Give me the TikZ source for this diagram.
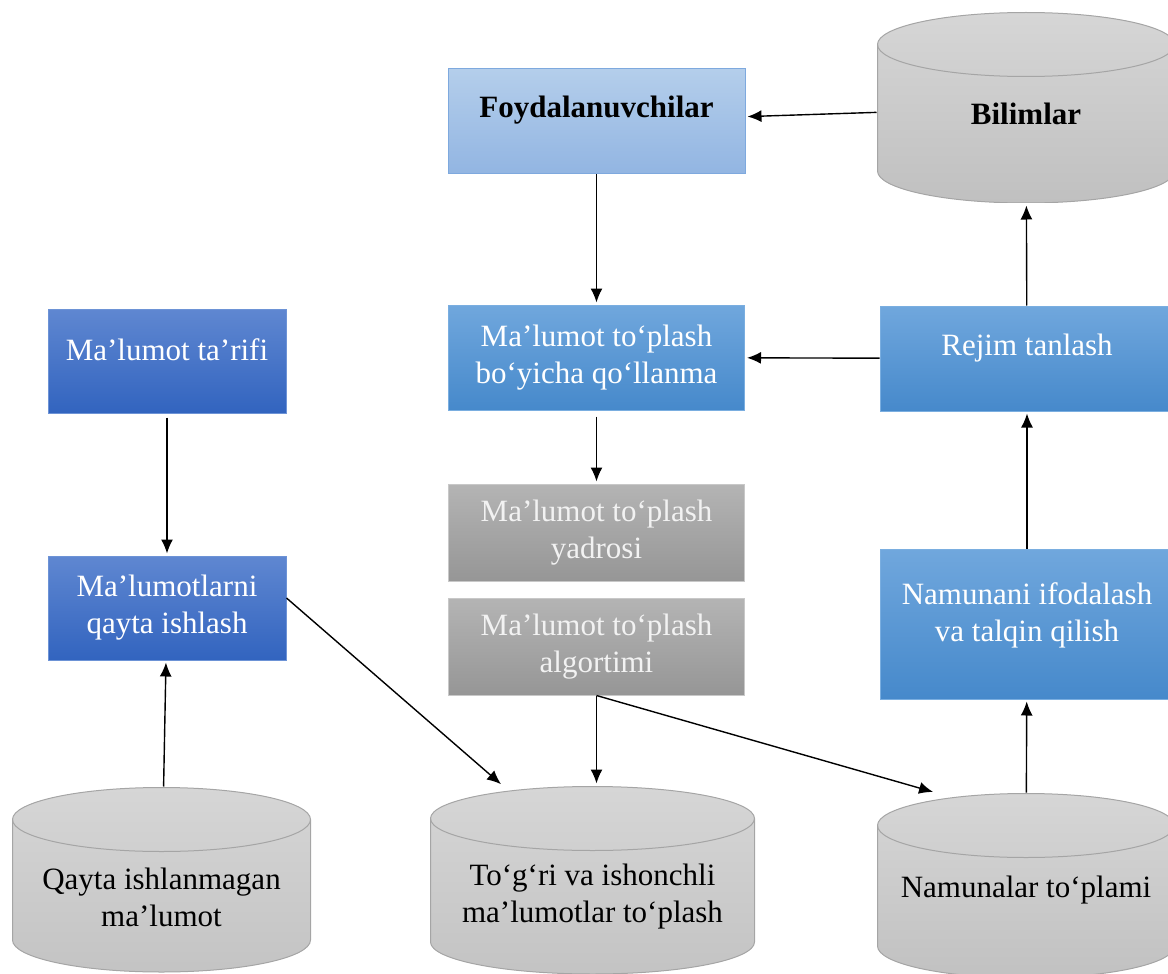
\documentclass[tikz,border=0pt]{standalone}
\usepackage{fontspec}
\setmainfont{Liberation Serif}
\usepackage{xcolor}
\usetikzlibrary{arrows.meta}
\usetikzlibrary{positioning,calc}

\definecolor{lbtop}{HTML}{B4CEEB}
\definecolor{lbbot}{HTML}{92B5E2}
\definecolor{lbline}{HTML}{7EA9DE}
\definecolor{mbtop}{HTML}{70A7DD}
\definecolor{mbbot}{HTML}{4689CB}
\definecolor{mbline}{HTML}{7AAEE0}
\definecolor{dbtop}{HTML}{5F87D1}
\definecolor{dbbot}{HTML}{3264BF}
\definecolor{dbline}{HTML}{6D93D6}
\definecolor{gtop}{HTML}{B4B4B4}
\definecolor{gbot}{HTML}{969696}
\definecolor{gline}{HTML}{C8C8C8}
\definecolor{ctop}{HTML}{D6D6D6}
\definecolor{cbot}{HTML}{C0C0C0}
\definecolor{cline}{HTML}{A5A5A5}

% cylinder drawn inside a node; #1 = space left below it
\newcommand\drawcyl[1]{%
  \shade [top color=ctop, bottom color=cbot, draw=cline, line width=0.5pt, shorten >=0pt]
    let \p1=(path picture bounding box.north west),
        \p2=(path picture bounding box.south east),
        \n1={(\x2-\x1)/2-0.25pt} in
    (\x1+0.25pt,\y1-16.25pt) -- (\x1+0.25pt,\y2+#1+16pt)
    arc[start angle=180, end angle=360, x radius=\n1, y radius=16pt]
    -- (\x2-0.25pt,\y1-16.25pt)
    arc[start angle=0, end angle=180, x radius=\n1, y radius=16pt] -- cycle;
  \draw [cline, line width=0.5pt, shorten >=0pt]
    let \p1=(path picture bounding box.north west),
        \p2=(path picture bounding box.south east),
        \n1={(\x2-\x1)/2-0.25pt} in
    (\x1+0.25pt,\y1-16.25pt)
    arc[start angle=180, end angle=360, x radius=\n1, y radius=16pt];
}

\begin{document}
\begin{tikzpicture}[%
      every node/.style={rectangle, align=center, inner sep=0pt, line width=0.5pt,
        font=\fontsize{15.5}{18.5}\selectfont},
      lbox/.style={draw=lbline, top color=lbtop, bottom color=lbbot,
        minimum width=148.5pt, minimum height=52.5pt},
      mbox/.style={draw=mbline, top color=mbtop, bottom color=mbbot, text=white,
        minimum width=148pt, minimum height=52.5pt},
      dbox/.style={draw=dbline, top color=dbtop, bottom color=dbbot, text=white,
        minimum width=119pt, minimum height=52pt},
      gbox/.style={draw=gline, top color=gtop, bottom color=gbot, text=white!95!black,
        minimum width=148pt, minimum height=48.5pt},
      db/.style={minimum width=149pt, path picture={\drawcyl{#1}}},
      db/.default=0pt,
      shorten >=1pt, line width=0.7pt, >={Latex[length=7pt,width=6pt]}
    ]
    \useasboundingbox (0,0) rectangle (584pt,-487pt);
    % middle column
    \node [] (0) [lbox, text depth=14.5pt] at (298.25pt,-60.75pt) {\textbf{Foydalanuvchilar}};
    \node [] (1) [mbox, below=65pt of 0] {Ma’lumot to‘plash\\bo‘yicha qo‘llanma};
    \node [] (2) [gbox, below=36.5pt of 1] {Ma’lumot to‘plash\\yadrosi};
    \node [] (3) [gbox, below=8pt of 2] {Ma’lumot to‘plash\\algortimi};
    % right column
    \node [] (4) [db, minimum height=95.5pt, text height=17pt] at (513pt,-53.75pt)
      {\textbf{Bilimlar}};
    \node [] (5) [mbox, minimum width=147pt, text depth=13.5pt] at (513.5pt,-179.25pt)
      {Rejim tanlash};
    \node [] (6) [mbox, minimum width=147pt, minimum height=75pt, text depth=13.5pt,
      below=68.5pt of 5]
      {\begin{tabular}[b]{@{}c@{}}Namunani ifodalash\\va talqin qilish\end{tabular}};
    % left column
    \node [] (7) [dbox, text depth=11pt] at (83.5pt,-180.5pt) {Ma’lumot ta’rifi};
    \node [] (8) [dbox, below=71pt of 7] {Ma’lumotlarni\\qayta ishlash};
    % bottom row
    \node [] (9) [db=17.5pt, minimum width=149.5pt, minimum height=110pt]
      at (80.75pt,-448.5pt) {Qayta ishlanmagan\\ma’lumot};
    \node [] (10) [db=17pt, minimum width=162.5pt, minimum height=111pt]
      at (296.25pt,-448.5pt) {To‘g‘ri va ishonchli\\ma’lumotlar to‘plash};
    \node [] (11) [db=4.5pt, minimum height=97pt] at (513pt,-445pt) {Namunalar to‘plami};
    \path [draw] (4) edge[->] (0)
    (0) edge[->] (1)
    (5) edge[->] (1)
    (5) edge[->] (4)
    (1) edge[->, shorten <=3pt] (2)
    (7) edge[->, shorten <=2pt] (8)
    (9) edge[->] (8)
    ([yshift=5pt]8.east) edge[->] ([xshift=-45pt]10.north)
    (3.south) edge[->] (3.south |- 10.north)
    (3.south) edge[->] ([xshift=-45.5pt]11.north)
    (11) edge[->] (6)
    (6) edge[->] (5)
    ;
  \end{tikzpicture}
\end{document}
